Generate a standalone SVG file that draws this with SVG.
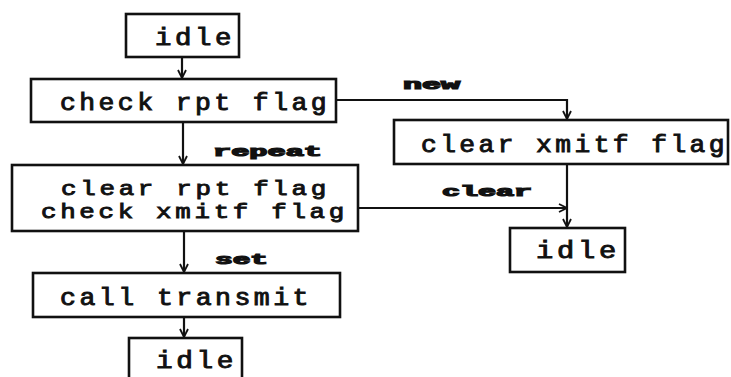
<svg xmlns="http://www.w3.org/2000/svg" width="731" height="377" viewBox="0 0 731 377">
<style>
.box{fill:#fff;stroke:#111;stroke-width:2.6}
.t{font-family:"Liberation Mono","DejaVu Sans Mono",monospace;font-size:23px;font-weight:normal;letter-spacing:3px;fill:#111;stroke:#111;stroke-width:0.9}
.t2{font-size:21px}
.lbl{font-family:"Liberation Mono","DejaVu Sans Mono",monospace;font-size:14px;font-weight:bold;fill:#111;stroke:#111;stroke-width:1.2}
.c{fill:none;stroke:#111;stroke-width:2.2}
</style>
<defs>
<marker id="ah" viewBox="0 0 10 10" refX="9" refY="5" markerWidth="10" markerHeight="10" markerUnits="userSpaceOnUse" orient="auto">
<path d="M1,1 L9,5 L1,9" fill="none" stroke="#111" stroke-width="1.8"/>
</marker>
</defs>
<rect width="731" height="377" fill="#fff"/>
<g id="connectors">
<path class="c" d="M182,57 V78" marker-end="url(#ah)"/>
<path class="c" d="M183,122 V164" marker-end="url(#ah)"/>
<path class="c" d="M184,231 V272" marker-end="url(#ah)"/>
<path class="c" d="M184,317 V337" marker-end="url(#ah)"/>
<path class="c" d="M336,100 H567 V119" marker-end="url(#ah)"/>
<path class="c" d="M567,164 V227" marker-end="url(#ah)"/>
<path class="c" d="M358,208 H567" marker-end="url(#ah)"/>
<text class="lbl" x="403" y="89" textLength="57" lengthAdjust="spacingAndGlyphs">new</text>
<text class="lbl" x="213" y="156" textLength="109" lengthAdjust="spacingAndGlyphs">repeat</text>
<text class="lbl" x="442" y="196" textLength="90" lengthAdjust="spacingAndGlyphs">clear</text>
<text class="lbl" x="215" y="264" textLength="53" lengthAdjust="spacingAndGlyphs">set</text>
</g>
<g id="idle1">
<rect class="box" x="126" y="14" width="113" height="43"/>
<text class="t" x="155" y="45" textLength="80" lengthAdjust="spacingAndGlyphs">idle</text>
</g>
<g id="checkRpt">
<rect class="box" x="31" y="79" width="305" height="43"/>
<text class="t" x="60" y="110" textLength="270" lengthAdjust="spacingAndGlyphs">check rpt flag</text>
</g>
<g id="clearRpt">
<rect class="box" x="12" y="165" width="346" height="66"/>
<text class="t t2" x="61" y="195" textLength="269" lengthAdjust="spacingAndGlyphs">clear rpt flag</text>
<text class="t t2" x="41" y="218" textLength="307" lengthAdjust="spacingAndGlyphs">check xmitf flag</text>
</g>
<g id="callTransmit">
<rect class="box" x="33" y="273" width="307" height="44"/>
<text class="t" x="60" y="305" textLength="252" lengthAdjust="spacingAndGlyphs">call transmit</text>
</g>
<g id="idle3">
<rect class="box" x="129" y="338" width="113" height="45"/>
<text class="t" x="156" y="368" textLength="81" lengthAdjust="spacingAndGlyphs">idle</text>
</g>
<g id="clearXmitf">
<rect class="box" x="394" y="120" width="334" height="44"/>
<text class="t" x="421" y="152" textLength="307" lengthAdjust="spacingAndGlyphs">clear xmitf flag</text>
</g>
<g id="idle2">
<rect class="box" x="510" y="228" width="115" height="44"/>
<text class="t" x="536" y="258" textLength="84" lengthAdjust="spacingAndGlyphs">idle</text>
</g>
</svg>
